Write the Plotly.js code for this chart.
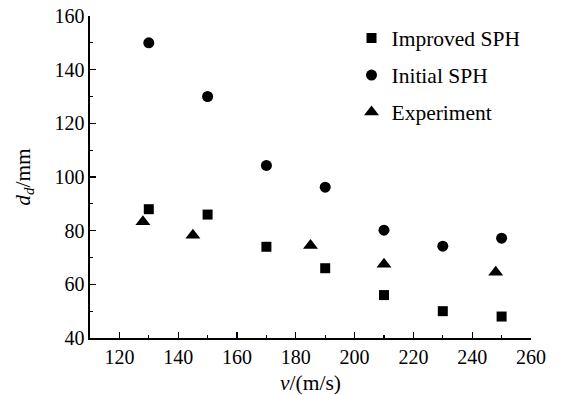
<!DOCTYPE html>
<html>
<head>
<meta charset="utf-8">
<script src="https://cdn.plot.ly/plotly-3.0.1.min.js"></script>
<style>html,body{margin:0;padding:0;background:#fff;}#chart{width:561px;height:395px;}</style>
</head>
<body>
<div id="chart"></div>
<script>
const improvedX = [130, 150, 170, 190, 210, 230, 250];
const improvedY = [88, 86, 74, 66, 56, 50, 48];
const initialX = [130, 150, 170, 190, 210, 230, 250];
const initialY = [150, 130, 104.3, 96.2, 80.2, 74.2, 77.2];
const expX = [128, 145, 185, 210, 248];
const expY = [83.3, 78.3, 74.5, 67.5, 64.5];
const xTicks = [120, 140, 160, 180, 200, 220, 240, 260];
const yTicks = [40, 60, 80, 100, 120, 140, 160];

const fontFam = '"Liberation Serif", "Times New Roman", serif';
const traces = [
  {x: improvedX, y: improvedY, name: 'Improved SPH', mode: 'markers', type: 'scatter', legendgroup: 'a',
   marker: {symbol: 'square', size: 10, color: '#000'}},
  {x: initialX, y: initialY, name: 'Initial SPH', mode: 'markers', type: 'scatter', legendgroup: 'b',
   marker: {symbol: 'circle', size: 11, color: '#000'}},
  {x: expX, y: expY, name: 'Experiment', mode: 'markers', type: 'scatter', legendgroup: 'c',
   marker: {symbol: 'triangle-up', size: 13, color: '#000'}}
];
const axisCommon = {
  showline: true, linecolor: '#000', linewidth: 1.6, mirror: false,
  ticks: 'inside', ticklen: 6, tickwidth: 1.3, tickcolor: '#000',
  showgrid: false, zeroline: false,
  tickfont: {family: fontFam, size: 20, color: '#000'}
};
const layout = {
  width: 561, height: 395,
  margin: {l: 90, r: 30, t: 16, b: 57},
  paper_bgcolor: '#fff', plot_bgcolor: '#fff',
  font: {family: fontFam, color: '#000'},
  showlegend: true,
  legend: {x: 0.593, y: 0.995, xanchor: 'left', yanchor: 'top', bgcolor: 'rgba(0,0,0,0)',
           font: {family: fontFam, size: 21.5, color: '#000'}, tracegroupgap: 6, traceorder: 'grouped'},
  xaxis: Object.assign({}, axisCommon, {
    range: [110, 260], tickvals: xTicks, ticktext: xTicks.map(String),
    minor: {dtick: 10, ticks: 'inside', ticklen: 3, tickcolor: '#000', tickwidth: 1.2},
    title: {text: '<i>v</i>/(m/s)', font: {family: fontFam, size: 21.5, color: '#000'}, standoff: 8}
  }),
  yaxis: Object.assign({}, axisCommon, {
    range: [40, 160], tickvals: yTicks, ticktext: yTicks.map(String),
    minor: {dtick: 10, ticks: 'inside', ticklen: 3, tickcolor: '#000', tickwidth: 1.2},
    title: {text: '<i>d</i><sub><i>d</i></sub>/mm', font: {family: fontFam, size: 21.5, color: '#000'}, standoff: 18}
  })
};
Plotly.newPlot('chart', traces, layout, {displayModeBar: false, staticPlot: true});
</script>
</body>
</html>
